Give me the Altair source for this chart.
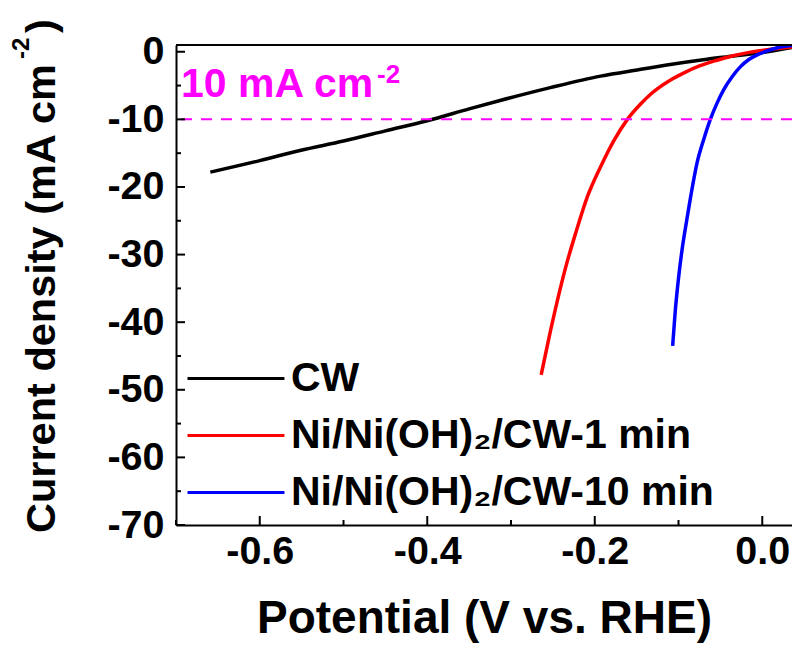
import altair as alt
import pandas as pd

# ---- data ----
series_names = ["CW", "Ni/Ni(OH)₂/CW-1 min", "Ni/Ni(OH)₂/CW-10 min"]
series_colors = ["#000000", "#FF0000", "#0000FF"]

cw_potential = [-0.659, -0.60, -0.552, -0.50, -0.45, -0.40, -0.35, -0.313, -0.253,
                -0.193, -0.145, -0.114, -0.066, -0.034, 0.006, 0.045]
cw_current = [-17.8, -16.1, -14.6, -13.2, -11.7, -10.2, -8.45, -7.2, -5.3,
              -3.6, -2.6, -1.96, -1.1, -0.63, 0.0, 0.85]

ni1_potential = [-0.264, -0.255, -0.245, -0.235, -0.222, -0.209, -0.193, -0.177, -0.161,
                 -0.145, -0.133, -0.125, -0.110, -0.094, -0.075, -0.054, -0.035, -0.014,
                 0.006, 0.045]
ni1_current = [-47.8, -42.5, -37.0, -32.0, -26.5, -21.5, -17.0, -13.1, -10.0,
               -7.7, -6.25, -5.45, -4.2, -3.15, -2.1, -1.25, -0.6, -0.05,
               0.3, 0.8]

ni10_potential = [-0.107, -0.104, -0.100, -0.096, -0.091, -0.086, -0.078, -0.070, -0.062,
                  -0.054, -0.046, -0.036, -0.026, -0.016, -0.006, 0.004, 0.018, 0.045]
ni10_current = [-43.5, -38.5, -33.5, -29.5, -25.5, -21.8, -16.5, -13.0, -10.0,
                -7.6, -5.6, -3.7, -2.2, -1.15, -0.45, 0.05, 0.6, 1.0]

ref_level = [-10]
ref_label_main = ["10 mA cm"]
ref_label_sup = ["-2"]
ref_label_x = [-0.694]
ref_label_y = [-6.7]

y_title_main = ["Current density (mA cm"]
y_title_sup = ["-2"]
y_title_close = [")"]

x_major = [-0.6, -0.4, -0.2, 0.0]
x_minor = [-0.7, -0.5, -0.3, -0.1]
y_major = [0, -10, -20, -30, -40, -50, -60, -70]
y_minor = [-5, -15, -25, -35, -45, -55, -65]
frame_top = [1]

# ---- tables ----
rows = []
for name, vs, js in zip(series_names,
                        [cw_potential, ni1_potential, ni10_potential],
                        [cw_current, ni1_current, ni10_current]):
    for v, j in zip(vs, js):
        rows.append({"series": name, "potential": v, "current": j})
df = pd.DataFrame(rows)

FONT = "Liberation Sans"
W, H = 616, 480
x_scale = alt.Scale(domain=[-0.7, 0.0355], nice=False, zero=False)
y_scale = alt.Scale(domain=[-70, 1], nice=False, zero=False)

x_axis = alt.Axis(
    values=x_major, ticks=False, grid=False,
    labelExpr="datum.value == 0 ? '0.0' : '-' + format(-datum.value, '.1f')",
    domainColor="black", domainWidth=2,
    labelFont=FONT, labelFontSize=39.5, labelFontWeight="bold", labelColor="black",
    labelPadding=7, labelFlush=False, labelOverlap=False,
    title="Potential (V vs. RHE)", titleFont=FONT, titleFontSize=46,
    titleFontWeight="bold", titleColor="black", titlePadding=26,
)
y_axis = alt.Axis(
    values=y_major, ticks=False, grid=False,
    labelExpr="datum.value == 0 ? '0' : '-' + format(-datum.value, 'd')",
    domainColor="black", domainWidth=2,
    labelFont=FONT, labelFontSize=39.5, labelFontWeight="bold", labelColor="black",
    labelPadding=12, labelFlush=False, labelOverlap=False,
    title=None,
)

X = lambda f: alt.X(f, scale=x_scale, axis=x_axis)
Y = lambda f: alt.Y(f, scale=y_scale, axis=y_axis)

lines = alt.Chart(df).mark_line(strokeWidth=3.5, interpolate="monotone", clip=True).encode(
    x=X("potential:Q"),
    y=Y("current:Q"),
    color=alt.Color(
        "series:N",
        scale=alt.Scale(domain=series_names, range=series_colors),
        sort=series_names,
        legend=alt.Legend(
            title=None, orient="none", legendX=7, legendY=313,
            symbolType="M-1,0H5.06", symbolSize=1024, symbolStrokeWidth=3,
            labelFont=FONT, labelFontSize=41, labelFontWeight="bold", labelColor="black",
            labelOffset=67, rowPadding=15, padding=0, labelLimit=0,
        ),
    ),
)

ref_line = alt.Chart(pd.DataFrame({"current": ref_level})).mark_rule(
    color="#FF00FF", strokeDash=[11, 9], strokeWidth=2
).encode(y=Y("current:Q"))

ref_df = pd.DataFrame({"potential": ref_label_x, "current": ref_label_y,
                       "main": ref_label_main, "sup": ref_label_sup})
ref_text = alt.Chart(ref_df).mark_text(
    align="left", baseline="alphabetic", font=FONT, fontSize=41, fontWeight="bold",
    color="#FF00FF"
).encode(x=X("potential:Q"), y=Y("current:Q"), text="main:N")
ref_sup = alt.Chart(ref_df).mark_text(
    align="left", baseline="alphabetic", font=FONT, fontSize=26, fontWeight="bold",
    color="#FF00FF", dx=196, dy=-14
).encode(x=X("potential:Q"), y=Y("current:Q"), text="sup:N")

ytitle_df = pd.DataFrame({"main": y_title_main, "sup": y_title_sup, "close": y_title_close})
ytitle_main = alt.Chart(ytitle_df).mark_text(
    align="left", baseline="alphabetic", angle=270, font=FONT, fontSize=41.5,
    fontWeight="bold", color="black"
).encode(x=alt.value(-121), y=alt.value(488), text="main:N")
ytitle_sup = alt.Chart(ytitle_df).mark_text(
    align="left", baseline="alphabetic", angle=270, font=FONT, fontSize=24,
    fontWeight="bold", color="black"
).encode(x=alt.value(-147), y=alt.value(14), text="sup:N")
ytitle_close = alt.Chart(ytitle_df).mark_text(
    align="left", baseline="alphabetic", angle=270, font=FONT, fontSize=41.5,
    fontWeight="bold", color="black"
).encode(x=alt.value(-121), y=alt.value(-12), text="close:N")

x_major_ticks = alt.Chart(pd.DataFrame({"potential": x_major})).mark_rule(
    color="black", strokeWidth=2
).encode(x=X("potential:Q"), y=alt.value(H), y2=alt.value(H - 9))
x_minor_ticks = alt.Chart(pd.DataFrame({"potential": x_minor})).mark_rule(
    color="black", strokeWidth=2
).encode(x=X("potential:Q"), y=alt.value(H), y2=alt.value(H - 5))
y_major_ticks = alt.Chart(pd.DataFrame({"current": y_major})).mark_rule(
    color="black", strokeWidth=2
).encode(y=Y("current:Q"), x=alt.value(0), x2=alt.value(9))
y_minor_ticks = alt.Chart(pd.DataFrame({"current": y_minor})).mark_rule(
    color="black", strokeWidth=2
).encode(y=Y("current:Q"), x=alt.value(0), x2=alt.value(5))
top_frame = alt.Chart(pd.DataFrame({"current": frame_top})).mark_rule(
    color="black", strokeWidth=2
).encode(y=Y("current:Q"), x=alt.value(0), x2=alt.value(W))

chart = alt.layer(
    lines, ref_line, ref_text, ref_sup, x_major_ticks, x_minor_ticks, y_major_ticks,
    y_minor_ticks, top_frame, ytitle_main, ytitle_sup, ytitle_close,
).properties(
    width=W, height=H,
    autosize=alt.AutoSizeParams(type="none"),
    padding={"left": 168, "top": 37, "right": 0, "bottom": 123},
    background="white",
).configure_view(stroke=None)

chart.save("out.html", embed_options={"renderer": "svg", "actions": False})
